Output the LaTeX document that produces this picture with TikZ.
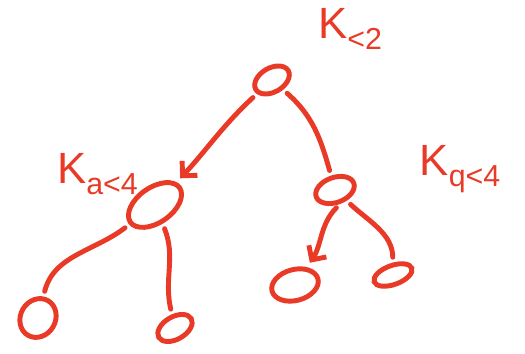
\documentclass[tikz,border=0pt]{standalone}
\usepackage{fontspec}
\setmainfont{Liberation Sans}
\usetikzlibrary{shapes.geometric,arrows.meta}
\definecolor{ink}{RGB}{232,58,38}
\newcommand{\lowsub}[1]{\raisebox{-0.45ex}{\LARGE #1}}
\tikzset{
    knot/.style={ellipse, draw=ink, line width=2.8pt, inner sep=0pt},
    edge/.style={draw=ink, line width=2.8pt, line cap=round, shorten <=3pt, shorten >=3pt},
    lab/.style={text=ink, font=\Huge}
}
\begin{document}
\begin{tikzpicture}
    \useasboundingbox (0,0) rectangle (10.5,7.08);
    % Knoten
    \node[knot, minimum width=0.75cm, minimum height=0.48cm, rotate=30] (root) at (5.44,5.48) {};
    \node[knot, minimum width=1.2cm, minimum height=0.7cm, rotate=35] (lc) at (3.1,2.98) {};
    \node[knot, minimum width=0.8cm, minimum height=0.5cm, rotate=20] (rc) at (6.7,3.28) {};
    \node[knot, minimum width=0.8cm, minimum height=0.7cm, rotate=60] (ll) at (0.76,0.72) {};
    \node[knot, minimum width=0.75cm, minimum height=0.45cm, rotate=30] (lr) at (3.5,0.52) {};
    \node[knot, minimum width=0.95cm, minimum height=0.62cm, rotate=15] (rl) at (5.9,1.38) {};
    \node[knot, minimum width=0.8cm, minimum height=0.38cm, rotate=20] (rr) at (7.86,1.58) {};

    % Kanten
    \draw[edge, -{Straight Barb[length=6pt]}] (root) to[out=215, in=35] (lc);
    \draw[edge] (root) to[out=-50, in=100] (rc);
    \draw[edge] (lc) to[out=205, in=60] (ll);
    \draw[edge] (lc) to[out=-80, in=95] (lr);
    \draw[edge, -{Straight Barb[length=6pt]}] (rc.270) to[out=225, in=50] (rl);
    \draw[edge] (rc) to[out=-50, in=85] (rr);

    % Beschriftung
    \node[lab] (kroot) at (7.0,6.5) {K\lowsub{<2}};
    \node[lab] (klc) at (1.95,3.6) {K\lowsub{a<4}};
    \node[lab] (krc) at (9.2,3.7) {K\lowsub{q<4}};
\end{tikzpicture}
\end{document}
